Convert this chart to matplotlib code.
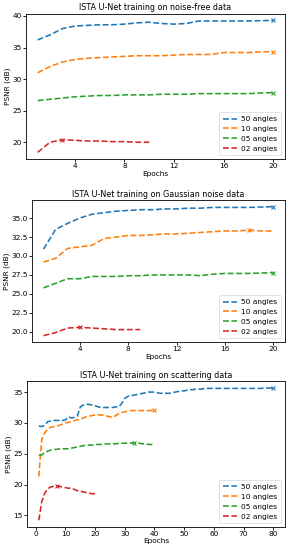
import numpy as np
import matplotlib
matplotlib.use("Agg")
import matplotlib.pyplot as plt

labels = ["50 angles", "10 angles", "05 angles", "02 angles"]
colors = ["#1f77b4", "#ff7f0e", "#2ca02c", "#d62728"]

# noise-free data
nf_50 = [36.2, 37.0, 38.0, 38.4, 38.5, 38.6, 38.6, 38.7, 38.9, 39.0,
         38.8, 38.7, 38.8, 39.2, 39.2, 39.2, 39.2, 39.2, 39.25, 39.3]
nf_10 = [31.0, 32.0, 32.7, 33.1, 33.3, 33.4, 33.5, 33.6, 33.7, 33.7,
         33.7, 33.8, 33.9, 33.9, 33.9, 34.2, 34.2, 34.2, 34.3, 34.35]
nf_05 = [26.6, 26.8, 27.0, 27.2, 27.3, 27.4, 27.4, 27.5, 27.5, 27.5,
         27.6, 27.6, 27.6, 27.7, 27.7, 27.7, 27.7, 27.7, 27.8, 27.85]
nf_02 = [18.4, 20.0, 20.4, 20.3, 20.2, 20.2, 20.1, 20.1, 20.0, 20.0]

# gaussian noise data
gn_50 = [30.9, 33.5, 34.3, 35.0, 35.5, 35.7, 35.9, 36.0, 36.1, 36.1,
         36.2, 36.2, 36.3, 36.3, 36.4, 36.4, 36.4, 36.4, 36.45, 36.5]
gn_10 = [29.2, 29.7, 31.0, 31.2, 31.4, 32.3, 32.5, 32.7, 32.7, 32.8,
         32.9, 32.9, 33.0, 33.1, 33.2, 33.3, 33.3, 33.4, 33.3, 33.3]
gn_05 = [25.8, 26.4, 27.0, 27.0, 27.3, 27.3, 27.3, 27.4, 27.4, 27.5,
         27.5, 27.5, 27.5, 27.4, 27.6, 27.7, 27.7, 27.7, 27.75, 27.8]
gn_02 = [19.5, 19.9, 20.5, 20.6, 20.5, 20.4, 20.3, 20.3, 20.3]

# scattering data
sc_50 = [29.5, 29.4, 29.6, 30.2, 30.3, 30.4, 30.4, 30.4, 30.4, 30.5,
         31.0, 30.8, 30.9, 31.1, 32.6, 32.9, 33.0, 33.0, 32.9, 32.8,
         32.6, 32.5, 32.5, 32.5, 32.5, 32.5, 32.6, 32.6, 33.2, 34.0,
         34.3, 34.4, 34.5, 34.6, 34.7, 34.8, 34.9, 35.0, 35.0, 35.0,
         34.9, 34.8, 34.8, 34.8, 34.8, 34.9, 35.0, 35.1, 35.2, 35.2,
         35.3, 35.4, 35.4, 35.5, 35.5, 35.5, 35.6, 35.6, 35.6, 35.6,
         35.6, 35.6, 35.6, 35.6, 35.6, 35.6, 35.6, 35.6, 35.6, 35.6,
         35.6, 35.6, 35.6, 35.6, 35.6, 35.6, 35.65, 35.65, 35.65, 35.7]
sc_10 = [21.3, 27.3, 28.4, 29.0, 29.3, 29.4, 29.5, 29.6, 29.8, 30.0,
         30.1, 30.2, 30.4, 30.5, 30.6, 30.8, 31.0, 31.1, 31.2, 31.3,
         31.3, 31.3, 31.2, 31.1, 31.0, 30.9, 31.2, 31.5, 31.7, 31.8,
         31.9, 32.0, 32.0, 32.0, 32.0, 32.0, 32.0, 32.0, 32.0, 32.05]
sc_05 = [24.8, 24.8, 25.2, 25.4, 25.6, 25.7, 25.7, 25.8, 25.8, 25.8,
         25.8, 25.9, 26.0, 26.1, 26.2, 26.3, 26.4, 26.4, 26.4, 26.5,
         26.5, 26.5, 26.6, 26.6, 26.6, 26.6, 26.6, 26.7, 26.7, 26.7,
         26.7, 26.7, 26.8, 26.7, 26.7, 26.6, 26.6, 26.5, 26.5, 26.5]
sc_02 = [14.2, 17.2, 18.6, 19.3, 19.6, 19.7, 19.8, 19.7, 19.6, 19.5,
         19.4, 19.4, 19.2, 19.0, 18.9, 18.8, 18.7, 18.6, 18.5, 18.5]

panels = [
    ("ISTA U-Net training on noise-free data", [nf_50, nf_10, nf_05, nf_02], [4, 8, 12, 16, 20], [20, 25, 30, 35, 40]),
    ("ISTA U-Net training on Gaussian noise data", [gn_50, gn_10, gn_05, gn_02], [4, 8, 12, 16, 20], np.arange(20, 35.1, 2.5)),
    ("ISTA U-Net training on scattering data", [sc_50, sc_10, sc_05, sc_02], None, [15, 20, 25, 30, 35]),
]
positions = [
    [0.089, 0.711, 0.890, 0.264],
    [0.110, 0.378, 0.869, 0.258],
    [0.093, 0.042, 0.886, 0.265],
]

plt.rcParams['font.size'] = 5.3
fig = plt.figure(figsize=(2.91, 5.5), dpi=100)

for (title, series, xt, yt), pos in zip(panels, positions):
    ax = fig.add_axes(pos)
    for vals, lab, c in zip(series, labels, colors):
        ep = np.arange(1, len(vals) + 1)
        best = int(np.argmax(vals))
        ax.plot(ep, vals, '--', color=c, lw=1.15, label=lab)
        ax.plot(ep[best], vals[best], 'x', color=c, ms=3.5, mew=0.8)
    ax.set_title(title, fontsize=5.8, pad=2.5)
    ax.set_xlabel("Epochs", labelpad=1)
    ax.set_ylabel("PSNR (dB)", labelpad=1)
    if xt is not None:
        ax.set_xticks(xt)
    ax.set_yticks(yt)
    ax.tick_params(length=2, width=0.6, pad=1)
    for s in ax.spines.values():
        s.set_linewidth(0.6)
    leg = ax.legend(loc='lower right', fontsize=5.3, handlelength=1.9,
                    borderpad=0.5, labelspacing=0.5, handletextpad=0.6)
    leg.get_frame().set_linewidth(0.5)

fig.savefig("out.png", dpi=100)
